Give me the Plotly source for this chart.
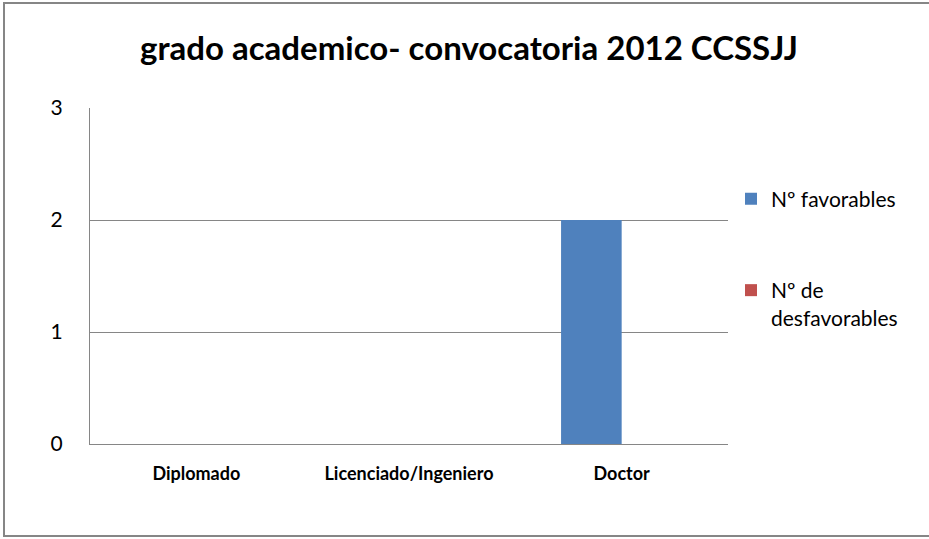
import plotly.graph_objects as go

categories = ["Diplomado", "Licenciado/Ingeniero", "Doctor"]
favorables = [0, 0, 2]
desfavorables = [0, 0, 0]
series_names = ["Nº favorables", "Nº de<br>desfavorables"]
y_ticks = [0, 1, 2, 3]

W, H = 929, 539
L, R, T, B = 90, 728, 108, 444

fig = go.Figure()
fig.add_trace(go.Bar(x=categories, y=favorables, name=series_names[0],
                     marker=dict(color="#4F81BD", line=dict(width=0)), legend="legend"))
fig.add_trace(go.Bar(x=categories, y=desfavorables, name=series_names[1],
                     marker=dict(color="#C0504D", line=dict(width=0)), legend="legend2"))

font = "Lato, 'Open Sans', sans-serif"
fig.update_layout(
    width=W, height=H,
    margin=dict(l=L, r=W - R, t=T, b=H - B, pad=0),
    paper_bgcolor="white", plot_bgcolor="white",
    barmode="group", bargap=0.43, bargroupgap=0,
    title=dict(text="grado academico- convocatoria 2012 CCSSJJ",
               x=469 / W, xanchor="center", y=1 - 48 / H, yanchor="middle",
               font=dict(family=font, size=33, color="black", weight="bold")),
    xaxis=dict(showgrid=False, showline=True, linecolor="#868686", linewidth=1,
               ticks="", tickfont=dict(family=font, size=18, color="black", weight="bold"),
               ticklabelstandoff=13, fixedrange=True),
    yaxis=dict(range=[0, 3], tickvals=y_ticks, showgrid=True, gridcolor="#868686",
               gridwidth=1, showline=True, linecolor="#868686", linewidth=1,
               ticks="", tickfont=dict(family=font, size=21, color="black"),
               ticklabelstandoff=22, zeroline=False, fixedrange=True),
    legend=dict(x=(731 - L) / (R - L), xanchor="left", y=1 - (199 - T) / (B - T), yanchor="middle",
                font=dict(family=font, size=21, color="black"), bgcolor="rgba(0,0,0,0)",
                itemwidth=30, traceorder="normal"),
    legend2=dict(x=(731 - L) / (R - L), xanchor="left", y=1 - (270 - T) / (B - T), yanchor="top",
                 font=dict(family=font, size=21, color="black"), bgcolor="rgba(0,0,0,0)",
                 itemwidth=30, valign="top"),
    showlegend=True,
)

fig.add_shape(type="rect", xref="paper", yref="paper",
              x0=(4 - L) / (R - L), x1=(940 - L) / (R - L),
              y0=1 - (536 - T) / (B - T), y1=1 - (3 - T) / (B - T),
              line=dict(color="#868686", width=2), fillcolor="rgba(0,0,0,0)", layer="below")

fig.write_html("out.html", config={"displayModeBar": False},
               post_script="document.body.style.margin='0px';")
